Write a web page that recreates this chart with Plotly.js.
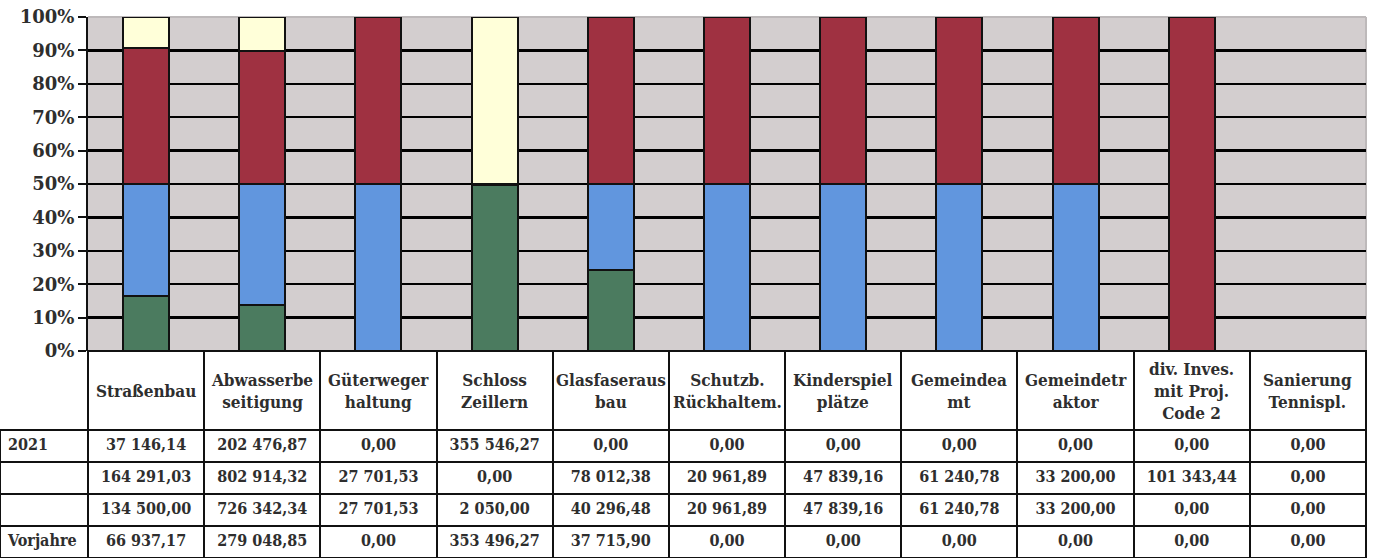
<!DOCTYPE html>
<html>
<head>
<meta charset="utf-8">
<script src="https://cdn.plot.ly/plotly-3.0.1.min.js"></script>
<style>
html,body{margin:0;padding:0;background:#fff;}
#chart{width:1374px;height:558px;}
</style>
</head>
<body>
<div id="chart"></div>
<script>
// ---- data ----
const categories = ['Straßenbau', 'Abwasserbe<br>seitigung', 'Güterweger<br>haltung', 'Schloss<br>Zeillern',
  'Glasfaseraus<br>bau', 'Schutzb.<br>Rückhaltem.', 'Kinderspiel<br>plätze', 'Gemeindea<br>mt',
  'Gemeindetr<br>aktor', 'div. Inves.<br>mit Proj.<br>Code 2', 'Sanierung<br>Tennispl.'];
const rowLabels = ['2021', '', '', 'Vorjahre'];
const v2021 = [37146.14, 202476.87, 0.00, 355546.27, 0.00, 0.00, 0.00, 0.00, 0.00, 0.00, 0.00];
const vRow2 = [164291.03, 802914.32, 27701.53, 0.00, 78012.38, 20961.89, 47839.16, 61240.78, 33200.00, 101343.44, 0.00];
const vRow3 = [134500.00, 726342.34, 27701.53, 2050.00, 40296.48, 20961.89, 47839.16, 61240.78, 33200.00, 0.00, 0.00];
const vVorjahre = [66937.17, 279048.85, 0.00, 353496.27, 37715.90, 0.00, 0.00, 0.00, 0.00, 0.00, 0.00];
const yTickVals = [0, 10, 20, 30, 40, 50, 60, 70, 80, 90, 100];
const yTickText = ['0%', '10%', '20%', '30%', '40%', '50%', '60%', '70%', '80%', '90%', '100%'];

// ---- helpers ----
function fmt(n) {
  const s = n.toFixed(2).split('.');
  return s[0].replace(/\B(?=(\d{3})+(?!\d))/g, ' ') + ',' + s[1];
}
const W = 1374, H = 558;
const plotL = 88, plotR = 1366, plotTop = 17, plotBot = 351;
const FONT = 'DejaVu Serif';
const FONT_C = 'DejaVu Serif Condensed, DejaVu Serif';
const TXT = '#2e2e2e';

const barLine = {color: '#111', width: 2};
function barTrace(name, vals, color) {
  return {type: 'bar', name: name, x: categories, y: vals.map(v => v === 0 ? null : v),
    marker: {color: color, line: barLine}, hoverinfo: 'x+y+name', showlegend: false};
}
const traces = [
  barTrace('Vorjahre', vVorjahre, '#4b7b5f'),
  barTrace('Zeile 3', vRow3, '#6196de'),
  barTrace('Zeile 2', vRow2, '#9f3141'),
  barTrace('2021', v2021, '#ffffd9')
];

// table
const colVals = [rowLabels];
for (let i = 0; i < categories.length; i++) {
  colVals.push([fmt(v2021[i]), fmt(vRow2[i]), fmt(vRow3[i]), fmt(vVorjahre[i])]);
}
const colW = (plotR - plotL) / categories.length;
const columnwidth = [plotL].concat(categories.map(() => colW));
const headerLineColors = ['rgba(0,0,0,0)'].concat(categories.map(() => '#111'));
const headerFill = ['rgba(0,0,0,0)'].concat(categories.map(() => '#ffffff'));
const aligns = ['left'].concat(categories.map(() => 'center'));
const cellFont = {family: FONT_C, size: 16, color: TXT, weight: 'bold', stretch: 'condensed'};
const headFont = {family: FONT_C, size: 17, color: TXT, weight: 'bold', stretch: 'condensed'};
traces.push({
  type: 'table',
  domain: {x: [0, plotR / W], y: [0, (H - plotBot) / H]},
  columnwidth: columnwidth,
  header: {values: colVals.map(() => ''), height: 79, fill: {color: headerFill},
    line: {color: headerLineColors, width: 2}, font: cellFont},
  cells: {values: colVals, height: 32, align: aligns, fill: {color: '#fff'},
    line: {color: '#111', width: 2}, font: cellFont}
});

const headerY = (H - 391) / H;
const annotations = categories.map(c => ({
  x: c, xref: 'x', y: headerY, yref: 'paper', text: c, showarrow: false,
  xanchor: 'center', yanchor: 'middle', align: 'center', valign: 'middle',
  font: headFont
}));

const layout = {
  width: W, height: H,
  margin: {l: 0, r: 0, t: 0, b: 0, pad: 0},
  paper_bgcolor: '#ffffff',
  plot_bgcolor: '#d3cecf',
  barmode: 'stack', barnorm: 'percent', bargap: 0.604,
  showlegend: false,
  xaxis: {domain: [plotL / W, plotR / W], type: 'category', showticklabels: false,
    showgrid: false, showline: false, ticks: '', zeroline: false, fixedrange: true},
  yaxis: {domain: [(H - plotBot) / H, (H - plotTop) / H], range: [0, 100],
    tickmode: 'array', tickvals: yTickVals, ticktext: yTickText,
    showgrid: true, gridcolor: '#000000', gridwidth: 2.5, zeroline: false,
    showline: true, linecolor: '#111', linewidth: 2, ticks: 'outside', ticklen: 8, tickwidth: 2, tickcolor: '#111',
    tickfont: {family: FONT, size: 18, color: TXT, weight: 'bold'}, fixedrange: true},
  shapes: [
    {type: 'line', xref: 'paper', yref: 'paper', x0: plotL / W, x1: plotR / W,
      y0: (H - plotTop) / H, y1: (H - plotTop) / H, line: {color: '#bdb9ba', width: 2}, layer: 'below'},
    {type: 'line', xref: 'paper', yref: 'paper', x0: plotR / W, x1: plotR / W,
      y0: (H - plotBot) / H, y1: (H - plotTop) / H, line: {color: '#bdb9ba', width: 2}, layer: 'below'}
  ],
  annotations: annotations
};

Plotly.newPlot('chart', traces, layout, {displayModeBar: false, staticPlot: true});
</script>
</body>
</html>
